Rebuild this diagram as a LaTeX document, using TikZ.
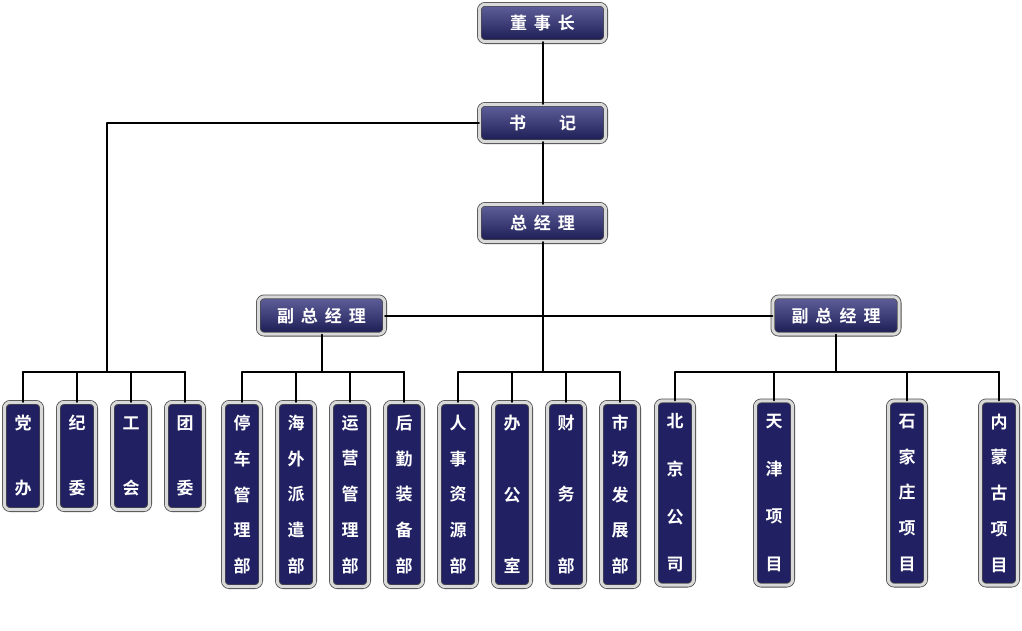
\documentclass[tikz,border=0pt]{standalone}
\usepackage{fontspec}
\newfontfamily\cjk{Noto Sans CJK SC}[BoldFont={Noto Sans CJK SC Bold}]
\definecolor{boxnavy}{RGB}{32,32,98}
\definecolor{boxlight}{RGB}{96,96,156}
\newcommand\gapp{\hspace{7pt}}
\tikzset{
  box/.style={draw=gray!60!black, double=gray!30, double distance=3pt, line width=0.8pt,
    rounded corners=6pt, inner sep=0pt, text=white},
  head/.style={box, top color=boxlight, middle color=boxnavy, bottom color=boxnavy!85!black,
    minimum width=126.4pt, minimum height=37.4pt, font=\cjk\bfseries\fontsize{17}{17}\selectfont},
  dept/.style={box, fill=boxnavy, minimum width=37.4pt, align=center,
    font=\cjk\bfseries\fontsize{17}{#1}\selectfont},
  short/.style={minimum height=107.4pt},
  long/.style={minimum height=184.4pt},
  link/.style={line width=2pt}
}
\begin{document}
\begin{tikzpicture}[x=1pt,y=-1pt,line join = round, line cap = round]
			\useasboundingbox (0,0) rectangle (1022,630);
			% leaders
			\node[head] (dsz) at (542.5,23) {董\gapp 事\gapp 长};
			\node[head] (shuji) at (542.5,123) {书\hspace{33pt}记};
			\node[head] (zjl) at (542.5,223) {总\gapp 经\gapp 理};
			\node[head] (fzl1) at (321.5,315.5) {副\gapp 总\gapp 经\gapp 理};
			\node[head] (fzl2) at (836,315.5) {副\gapp 总\gapp 经\gapp 理};
			% departments
			\node[dept=65,short] (dangban) at (23,456) {党\\办};
			\node[dept=65,short] (jiwei) at (77,456) {纪\\委};
			\node[dept=65,short] (gonghui) at (131,456) {工\\会};
			\node[dept=65,short] (tuanwei) at (185,456) {团\\委};
			\node[dept=35.75,long] (tingche) at (242,494.5) {停\\车\\管\\理\\部};
			\node[dept=35.75,long] (haiwai) at (296,494.5) {海\\外\\派\\遣\\部};
			\node[dept=35.75,long] (yunying) at (350,494.5) {运\\营\\管\\理\\部};
			\node[dept=35.75,long] (houqin) at (404,494.5) {后\\勤\\装\\备\\部};
			\node[dept=35.75,long] (renshi) at (458,494.5) {人\\事\\资\\源\\部};
			\node[dept=71.5,long] (bangong) at (512,494.5) {办\\公\\室};
			\node[dept=71.5,long] (caiwu) at (566,494.5) {财\\务\\部};
			\node[dept=35.75,long] (shichang) at (620,494.5) {市\\场\\发\\展\\部};
			\node[dept=47.7,long] (beijing) at (675,493) {北\\京\\公\\司};
			\node[dept=47.7,long] (tianjin) at (774,493) {天\\津\\项\\目};
			\node[dept=35.75,long] (sjz) at (907,493) {石\\家\\庄\\项\\目};
			\node[dept=35.75,long] (nmg) at (999,493) {内\\蒙\\古\\项\\目};
			% bus points
			\coordinate (b1) at (107,372);
			\coordinate (b2) at (321.5,372);
			\coordinate (b3) at (542.5,372);
			\coordinate (b4) at (836,372);
			% connectors
			\draw[link] (dsz)--(shuji)(shuji)--(zjl)(zjl)--(b3);
			\draw[link] (shuji.west) -| (b1);
			\draw[link] (fzl1)--(fzl2)(fzl1)--(b2)(fzl2)--(b4);
			\draw[link] (b1 -| dangban.north)--(b1 -| tuanwei.north);
			\draw[link] (b2 -| tingche.north)--(b2 -| houqin.north);
			\draw[link] (b3 -| renshi.north)--(b3 -| shichang.north);
			\draw[link] (b4 -| beijing.north)--(b4 -| nmg.north);
			\foreach \n in {dangban,jiwei,gonghui,tuanwei}
				\draw[link] (\n.north)--(\n.north |- b1);
			\foreach \n in {tingche,haiwai,yunying,houqin}
				\draw[link] (\n.north)--(\n.north |- b2);
			\foreach \n in {renshi,bangong,caiwu,shichang}
				\draw[link] (\n.north)--(\n.north |- b3);
			\foreach \n in {beijing,tianjin,sjz,nmg}
				\draw[link] (\n.north)--(\n.north |- b4);
\end{tikzpicture}
\end{document}
